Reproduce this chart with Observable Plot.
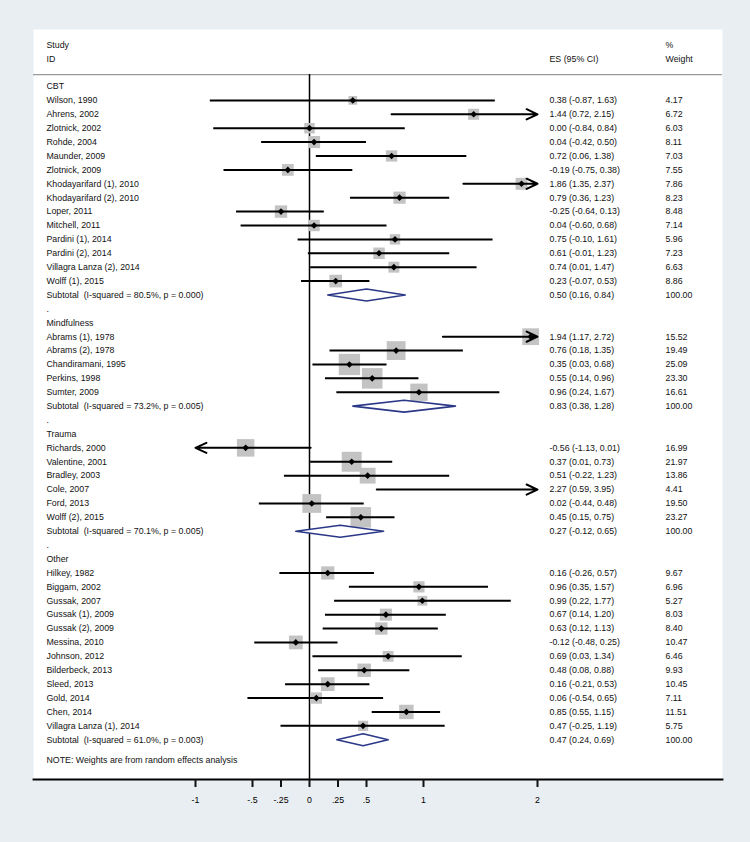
<!DOCTYPE html>
<html>
<head>
<meta charset="utf-8">
<script src="https://cdn.jsdelivr.net/npm/d3@7"></script>
<script src="https://cdn.jsdelivr.net/npm/@observablehq/plot@0.6"></script>
<style>
  html, body { margin: 0; padding: 0; background: #e9eef2; }
  #chart svg { display: block; }
</style>
</head>
<body>
<div id="chart"></div>
<script>
// ---------- data ----------
const groups = ["CBT", "Mindfulness", "Trauma", "Other"];

const cbtStudies = ["Wilson, 1990", "Ahrens, 2002", "Zlotnick, 2002", "Rohde, 2004", "Maunder, 2009", "Zlotnick, 2009",
  "Khodayarifard (1), 2010", "Khodayarifard (2), 2010", "Loper, 2011", "Mitchell, 2011", "Pardini (1), 2014",
  "Pardini (2), 2014", "Villagra Lanza (2), 2014", "Wolff (1), 2015"];
const cbtES = [0.38, 1.44, 0.00, 0.04, 0.72, -0.19, 1.86, 0.79, -0.25, 0.04, 0.75, 0.61, 0.74, 0.23];
const cbtLo = [-0.87, 0.72, -0.84, -0.42, 0.06, -0.75, 1.35, 0.36, -0.64, -0.60, -0.10, -0.01, 0.01, -0.07];
const cbtHi = [1.63, 2.15, 0.84, 0.50, 1.38, 0.38, 2.37, 1.23, 0.13, 0.68, 1.61, 1.23, 1.47, 0.53];
const cbtW  = [4.17, 6.72, 6.03, 8.11, 7.03, 7.55, 7.86, 8.23, 8.48, 7.14, 5.96, 7.23, 6.63, 8.86];

const mindStudies = ["Abrams (1), 1978", "Abrams (2), 1978", "Chandiramani, 1995", "Perkins, 1998", "Sumter, 2009"];
const mindES = [1.94, 0.76, 0.35, 0.55, 0.96];
const mindLo = [1.17, 0.18, 0.03, 0.14, 0.24];
const mindHi = [2.72, 1.35, 0.68, 0.96, 1.67];
const mindW  = [15.52, 19.49, 25.09, 23.30, 16.61];

const traumaStudies = ["Richards, 2000", "Valentine, 2001", "Bradley, 2003", "Cole, 2007", "Ford, 2013", "Wolff (2), 2015"];
const traumaES = [-0.56, 0.37, 0.51, 2.27, 0.02, 0.45];
const traumaLo = [-1.13, 0.01, -0.22, 0.59, -0.44, 0.15];
const traumaHi = [0.01, 0.73, 1.23, 3.95, 0.48, 0.75];
const traumaW  = [16.99, 21.97, 13.86, 4.41, 19.50, 23.27];

const otherStudies = ["Hilkey, 1982", "Biggam, 2002", "Gussak, 2007", "Gussak (1), 2009", "Gussak (2), 2009", "Messina, 2010",
  "Johnson, 2012", "Bilderbeck, 2013", "Sleed, 2013", "Gold, 2014", "Chen, 2014", "Villagra Lanza (1), 2014"];
const otherES = [0.16, 0.96, 0.99, 0.67, 0.63, -0.12, 0.69, 0.48, 0.16, 0.06, 0.85, 0.47];
const otherLo = [-0.26, 0.35, 0.22, 0.14, 0.12, -0.48, 0.03, 0.08, -0.21, -0.54, 0.55, -0.25];
const otherHi = [0.57, 1.57, 1.77, 1.20, 1.13, 0.25, 1.34, 0.88, 0.53, 0.65, 1.15, 1.19];
const otherW  = [9.67, 6.96, 5.27, 8.03, 8.40, 10.47, 6.46, 9.93, 10.45, 7.11, 11.51, 5.75];

const subtotalI2 = ["80.5%", "73.2%", "70.1%", "61.0%"];
const subtotalP  = ["0.000", "0.005", "0.005", "0.003"];
const subtotalES = [0.50, 0.83, 0.27, 0.47];
const subtotalLo = [0.16, 0.38, -0.12, 0.24];
const subtotalHi = [0.84, 1.28, 0.65, 0.69];

const xTicks = [-1, -0.5, -0.25, 0, 0.25, 0.5, 1, 2];
const xTickLabels = ["-1", "-.5", "-.25", "0", ".25", ".5", "1", "2"];
const xDomain = [-1, 2];

const headerLeft = ["Study", "ID"];
const headerES = "ES (95% CI)";
const headerW = ["%", "Weight"];
const note = "NOTE: Weights are from random effects analysis";

// ---------- build rows ----------
const groupData = [
  [cbtStudies, cbtES, cbtLo, cbtHi, cbtW],
  [mindStudies, mindES, mindLo, mindHi, mindW],
  [traumaStudies, traumaES, traumaLo, traumaHi, traumaW],
  [otherStudies, otherES, otherLo, otherHi, otherW]
];
const f2 = v => v.toFixed(2);
const textRows = [];   // {row, label, es, w}
const studies = [];    // {row, es, lo, hi, w}
const subtotals = [];  // {row, group, es, lo, hi}
let row = 0;
groups.forEach((g, gi) => {
  textRows.push({row, label: g});
  row++;
  const [names, es, lo, hi, w] = groupData[gi];
  names.forEach((n, i) => {
    textRows.push({row, label: n, es: `${f2(es[i])} (${f2(lo[i])}, ${f2(hi[i])})`, w: f2(w[i])});
    studies.push({row, es: es[i], lo: lo[i], hi: hi[i], w: w[i]});
    row++;
  });
  textRows.push({row, label: `Subtotal\u00a0 (I-squared = ${subtotalI2[gi]}, p = ${subtotalP[gi]})`,
    es: `${f2(subtotalES[gi])} (${f2(subtotalLo[gi])}, ${f2(subtotalHi[gi])})`, w: "100.00"});
  subtotals.push({row, group: g, es: subtotalES[gi], lo: subtotalLo[gi], hi: subtotalHi[gi]});
  row++;
  if (gi < groups.length - 1) { textRows.push({row, label: "."}); row++; }
});
const lastRow = row - 1;
const noteRow = lastRow + 1.45;
const headerRows = [-3, -2];
const headerRuleRow = -0.86;
const yDomain = [-4.1, lastRow + 2.86];

// CI segments: plain vs clipped (arrow toward clipped end)
const inside = studies.filter(d => d.lo >= xDomain[0] && d.hi <= xDomain[1]);
const clipped = studies.filter(d => d.lo < xDomain[0] || d.hi > xDomain[1]).map(d => {
  const hiC = Math.min(d.hi, xDomain[1]), loC = Math.max(d.lo, xDomain[0]);
  return d.hi > xDomain[1] ? {row: d.row, from: loC, to: hiC} : {row: d.row, from: hiC, to: loC};
});
const visiblePts = studies.filter(d => d.es >= xDomain[0] && d.es <= xDomain[1]);

// diamond outlines for subtotals (half-height in row units)
const dh = 0.43;
const diamondPts = subtotals.flatMap(s => [
  {g: s.group, x: s.lo, y: s.row}, {g: s.group, x: s.es, y: s.row - dh},
  {g: s.group, x: s.hi, y: s.row}, {g: s.group, x: s.es, y: s.row + dh}
]);

const tickLabelMap = new Map(xTicks.map((t, i) => [t, xTickLabels[i]]));
const font = "'Liberation Sans', Arial, Helvetica, sans-serif";
const fs = 8.8;
const txt = "#111";

const chart = Plot.plot({
  width: 750,
  height: 842,
  marginLeft: 33,
  marginRight: 28,
  marginTop: 29,
  marginBottom: 63,
  style: {background: "#e9eef2", fontFamily: font, fontSize: fs + "px", color: "#000"},
  x: {domain: xDomain, range: [195, 537], axis: null},
  y: {domain: yDomain, reverse: true, axis: null},
  r: {type: "sqrt", domain: [0, 25], range: [0, 12]},
  marks: [
    Plot.frame({fill: "white", stroke: null}),
    // header
    Plot.text(headerLeft, {frameAnchor: "left", dx: 13, y: (d, i) => headerRows[i], text: d => d, textAnchor: "start", fill: txt, fontSize: fs}),
    Plot.text([headerES], {frameAnchor: "left", dx: 516, y: () => headerRows[1], text: d => d, textAnchor: "start", fill: txt, fontSize: fs}),
    Plot.text(headerW, {frameAnchor: "left", dx: 632, y: (d, i) => headerRows[i], text: d => d, textAnchor: "start", fill: txt, fontSize: fs}),
    Plot.ruleY([headerRuleRow], {stroke: "#9a9a9a", strokeWidth: 1.2}),
    // zero line
    Plot.ruleX([0], {y1: headerRuleRow, y2: yDomain[1], stroke: "#000", strokeWidth: 1.5}),
    // weight boxes
    Plot.dot(visiblePts, {x: "es", y: "row", r: "w", symbol: "square", fill: "#c3c3c3", stroke: null}),
    // CIs
    Plot.ruleY(inside, {x1: "lo", x2: "hi", y: "row", stroke: "#000", strokeWidth: 2}),
    Plot.arrow(clipped, {x1: "from", x2: "to", y1: "row", y2: "row", stroke: "#000", strokeWidth: 2, headLength: 9, headAngle: 50, bend: 0}),
    // point estimates
    Plot.dot(visiblePts, {x: "es", y: "row", r: 3, symbol: "diamond2", fill: "#000", stroke: null}),
    // subtotal diamonds
    Plot.line(diamondPts, {x: "x", y: "y", z: "g", fill: "white", stroke: "#2b3888", strokeWidth: 1.6, curve: "linear-closed"}),
    // text columns
    Plot.text(textRows, {frameAnchor: "left", dx: 13, y: "row", text: "label", textAnchor: "start", fill: txt, fontSize: fs}),
    Plot.text(textRows.filter(d => d.es), {frameAnchor: "left", dx: 516, y: "row", text: "es", textAnchor: "start", fill: txt, fontSize: fs}),
    Plot.text(textRows.filter(d => d.w), {frameAnchor: "left", dx: 632, y: "row", text: "w", textAnchor: "start", fill: txt, fontSize: fs}),
    Plot.text([note], {frameAnchor: "left", dx: 13, y: () => noteRow, text: d => d, textAnchor: "start", fill: txt, fontSize: fs}),
    // axis
    Plot.frame({anchor: "bottom", stroke: "#000", strokeWidth: 1.8}),
    Plot.axisX({ticks: xTicks, tickFormat: d => tickLabelMap.get(d), tickSize: 8, tickPadding: 9, stroke: "#111", strokeWidth: 2, fontSize: fs, label: null})
  ]
});
document.getElementById("chart").appendChild(chart);
</script>
</body>
</html>
